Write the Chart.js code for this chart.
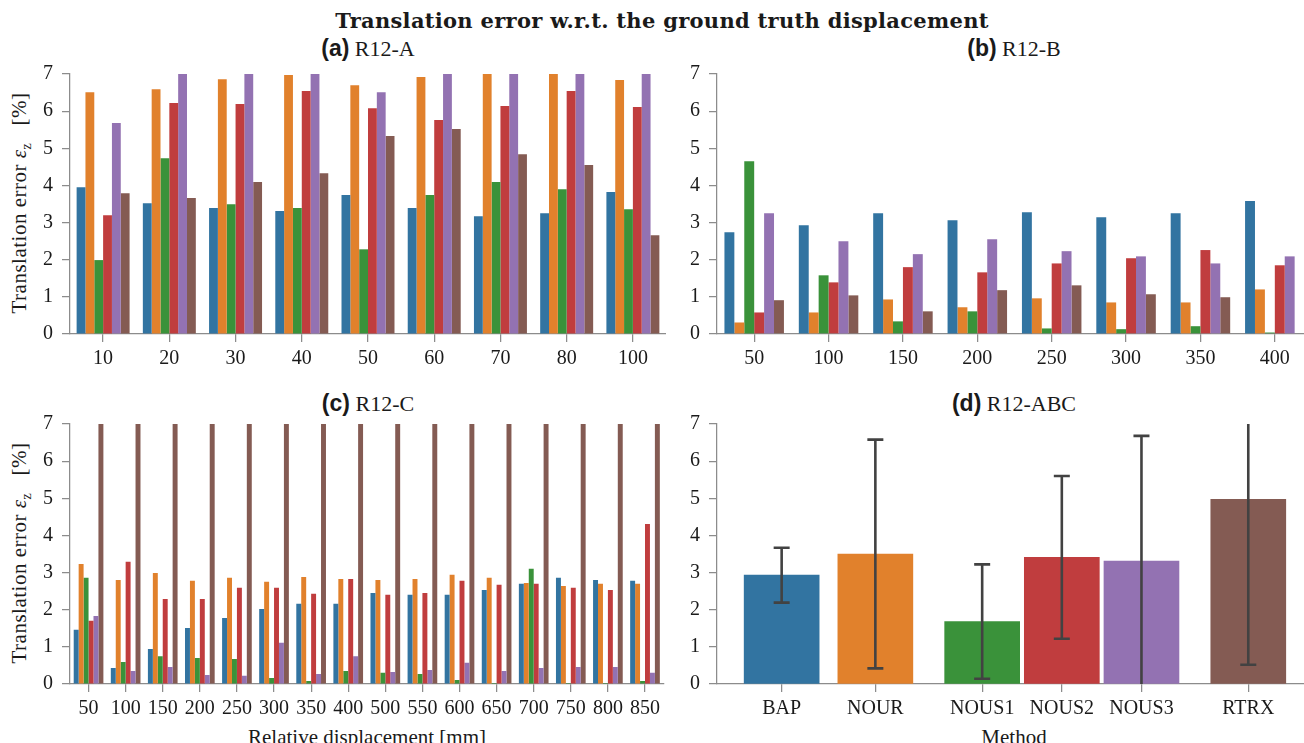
<!DOCTYPE html>
<html>
<head>
<meta charset="utf-8">
<script src="https://cdn.jsdelivr.net/npm/chart.js@4.4.0/dist/chart.umd.min.js"></script>
<style>
  html, body { margin: 0; padding: 0; background: #fff; overflow: hidden; }
  #fig { position: relative; width: 1304px; height: 743px; overflow: hidden; }
  #fig canvas { position: absolute; }
  .txt { position: absolute; font-family: 'Liberation Serif', serif; color: #1a1a1a; white-space: nowrap; transform: translate(-50%, -50%); }
  .sup { font-family: 'DejaVu Serif', serif; font-size: 21px; font-weight: bold; letter-spacing: 0.3px; }
  .ptitle { font-size: 22px; }
  .ptitle b { font-family: 'Liberation Sans', Arial, sans-serif; font-size: 23px; font-weight: bold; }
  .axlab { font-size: 21px; }
  .ylab { transform: translate(-50%, -50%) rotate(-90deg); letter-spacing: 0.5px; }
  sub { font-size: 14px; }
</style>
</head>
<body>
<div id="fig">
  <div class="txt sup" style="left:662px; top:20px">Translation error w.r.t. the ground truth displacement</div>

  <div class="txt ptitle" style="left:368px; top:48px"><b>(a)</b> R12-A</div>
  <div class="txt ptitle" style="left:1014px; top:48px"><b>(b)</b> R12-B</div>
  <div class="txt ptitle" style="left:368px; top:403px"><b>(c)</b> R12-C</div>
  <div class="txt ptitle" style="left:1014px; top:403px"><b>(d)</b> R12-ABC</div>

  <div class="txt axlab ylab" style="left:21px; top:203px">Translation error <i>ε</i><sub>z</sub>&nbsp;&nbsp; [%]</div>
  <div class="txt axlab ylab" style="left:21px; top:553px">Translation error <i>ε</i><sub>z</sub>&nbsp;&nbsp; [%]</div>
  <div class="txt axlab" style="left:367px; top:737px">Relative displacement [mm]</div>
  <div class="txt axlab" style="left:1014px; top:737px">Method</div>

  <canvas id="chartA" width="666" height="310"></canvas>
  <canvas id="chartB" width="665" height="310"></canvas>
  <canvas id="chartC" width="665" height="310"></canvas>
  <canvas id="chartD" width="665" height="310"></canvas>
</div>

<script>
// methods (hue) and colours
const methods = ['BAP', 'NOUR', 'NOUS1', 'NOUS2', 'NOUS3', 'RTRX'];
const methodColors = ['#3274a1', '#e1812c', '#3a923a', '#c03d3e', '#9372b2', '#845b53'];

// (a) R12-A  -- values above 7 are off the axis
const dispA = ['10', '20', '30', '40', '50', '60', '70', '80', '100'];
const aBAP   = [3.95, 3.52, 3.39, 3.31, 3.74, 3.39, 3.17, 3.25, 3.82];
const aNOUR  = [6.51, 6.59, 6.86, 6.97, 6.70, 6.92, 7.5, 7.5, 6.84];
const aNOUS1 = [1.99, 4.73, 3.49, 3.39, 2.28, 3.74, 4.09, 3.90, 3.36];
const aNOUS2 = [3.20, 6.22, 6.19, 6.54, 6.08, 5.76, 6.14, 6.54, 6.11];
const aNOUS3 = [5.68, 7.5, 7.5, 7.5, 6.51, 7.5, 7.5, 7.5, 7.5];
const aRTRX  = [3.79, 3.66, 4.09, 4.33, 5.33, 5.52, 4.84, 4.55, 2.66];

// (b) R12-B
const dispB = ['50', '100', '150', '200', '250', '300', '350', '400'];
const bBAP   = [2.74, 2.93, 3.25, 3.06, 3.28, 3.14, 3.25, 3.58];
const bNOUR  = [0.31, 0.58, 0.93, 0.72, 0.96, 0.85, 0.85, 1.20];
const bNOUS1 = [4.65, 1.58, 0.34, 0.61, 0.15, 0.13, 0.21, 0.04];
const bNOUS2 = [0.58, 1.39, 1.80, 1.66, 1.90, 2.04, 2.26, 1.85];
const bNOUS3 = [3.25, 2.50, 2.15, 2.55, 2.23, 2.09, 1.90, 2.09];
const bRTRX  = [0.91, 1.04, 0.61, 1.18, 1.31, 1.07, 0.99, 0];

// (c) R12-C  -- RTRX is above the 7 % limit everywhere
const dispC = ['50', '100', '150', '200', '250', '300', '350', '400', '500', '550', '600', '650', '700', '750', '800', '850'];
const cBAP   = [1.46, 0.43, 0.94, 1.51, 1.78, 2.02, 2.16, 2.16, 2.45, 2.40, 2.40, 2.53, 2.70, 2.86, 2.80, 2.78];
const cNOUR  = [3.23, 2.80, 2.99, 2.78, 2.86, 2.75, 2.88, 2.83, 2.80, 2.83, 2.94, 2.86, 2.72, 2.64, 2.70, 2.70];
const cNOUS1 = [2.86, 0.59, 0.75, 0.70, 0.67, 0.16, 0.08, 0.35, 0.30, 0.27, 0.11, 0.03, 3.10, 0.03, 0.03, 0.08];
const cNOUS2 = [1.70, 3.29, 2.29, 2.29, 2.59, 2.59, 2.43, 2.83, 2.40, 2.45, 2.78, 2.67, 2.70, 2.59, 2.53, 4.31];
const cNOUS3 = [1.83, 0.35, 0.46, 0.24, 0.22, 1.11, 0.27, 0.75, 0.32, 0.38, 0.57, 0.35, 0.43, 0.46, 0.46, 0.30];
const cRTRX  = [8, 8, 8, 8, 8, 8, 8, 8, 8, 8, 8, 8, 8, 8, 8, 8];

// (d) R12-ABC  mean and std per method, with bar positions along the axis
const dPositions = [0, 1, 2.14, 2.99, 3.84, 4.98];
const dMeans = [2.93, 3.50, 1.68, 3.41, 3.31, 4.97];
const dErrs  = [0.74, 3.08, 1.54, 2.19, 3.37, 4.45];

const yTicks = [0, 1, 2, 3, 4, 5, 6, 7];

const spineColor = '#8c8c8c';
const tickFont = { family: 'Liberation Serif', size: 20 };
const X_AXIS_H = 40;

function yAxis() {
  return {
    min: 0, max: 7,
    afterBuildTicks: s => { s.ticks = yTicks.map(v => ({ value: v })); },
    ticks: { color: '#1a1a1a', font: tickFont, padding: 9 },
    grid: { drawOnChartArea: false, tickLength: 8, color: spineColor, lineWidth: 1.25 },
    border: { color: spineColor, width: 1.25 },
    afterFit: s => { s.width = 70; }
  };
}

function xAxis() {
  return {
    ticks: { color: '#1a1a1a', font: tickFont, padding: 5, autoSkip: false, maxRotation: 0, minRotation: 0 },
    grid: { offset: false, drawOnChartArea: false, tickLength: 8, color: spineColor, lineWidth: 1.25 },
    border: { color: spineColor, width: 1.25 },
    afterFit: s => { s.height = X_AXIS_H; }
  };
}

function baseOptions(x) {
  return {
    responsive: false,
    maintainAspectRatio: false,
    devicePixelRatio: 1,
    animation: false,
    layout: { padding: 0 },
    plugins: { legend: { display: false }, tooltip: { enabled: false }, title: { display: false } },
    scales: { x: x, y: yAxis() }
  };
}

// put the canvas so that its plot area spans [top, bottom] on the page
function place(chart, left, top, bottom) {
  const off = chart.chartArea.top;
  chart.canvas.style.left = left + 'px';
  chart.canvas.style.top = (top - off) + 'px';
  chart.resize(chart.width, off + (bottom - top) + X_AXIS_H);
}

function groupedChart(id, labels, series) {
  return new Chart(document.getElementById(id), {
    type: 'bar',
    data: {
      labels: labels,
      datasets: series.map((vals, i) => ({
        label: methods[i],
        data: vals,
        backgroundColor: methodColors[i],
        borderWidth: 0,
        categoryPercentage: 0.8,
        barPercentage: 1.0
      }))
    },
    options: baseOptions(xAxis())
  });
}

const chartA = groupedChart('chartA', dispA, [aBAP, aNOUR, aNOUS1, aNOUS2, aNOUS3, aRTRX]);
const chartB = groupedChart('chartB', dispB, [bBAP, bNOUR, bNOUS1, bNOUS2, bNOUS3, bRTRX]);
const chartC = groupedChart('chartC', dispC, [cBAP, cNOUR, cNOUS1, cNOUS2, cNOUS3, cRTRX]);

// error bars for (d), clipped to the plot area like matplotlib does
const errorBars = {
  id: 'errorBars',
  afterDatasetsDraw(chart) {
    const { ctx, chartArea, scales } = chart;
    ctx.save();
    ctx.beginPath();
    ctx.rect(chartArea.left, chartArea.top, chartArea.right - chartArea.left, chartArea.bottom - chartArea.top);
    ctx.clip();
    ctx.strokeStyle = '#424242';
    ctx.lineWidth = 2.6;
    dMeans.forEach((m, i) => {
      const px = scales.x.getPixelForValue(dPositions[i]);
      const hi = scales.y.getPixelForValue(m + dErrs[i]);
      const lo = scales.y.getPixelForValue(m - dErrs[i]);
      ctx.beginPath();
      ctx.moveTo(px, hi); ctx.lineTo(px, lo);
      ctx.moveTo(px - 8, hi); ctx.lineTo(px + 8, hi);
      ctx.moveTo(px - 8, lo); ctx.lineTo(px + 8, lo);
      ctx.stroke();
    });
    ctx.restore();
  }
};

const xD = xAxis();
xD.type = 'linear';
xD.min = -0.69;
xD.max = 5.66;
xD.offset = false;
xD.afterBuildTicks = s => { s.ticks = dPositions.map(v => ({ value: v })); };
xD.ticks.callback = (v, i) => methods[i];

const chartD = new Chart(document.getElementById('chartD'), {
  type: 'bar',
  data: {
    datasets: [{
      data: dPositions.map((p, i) => ({ x: p, y: dMeans[i] })),
      backgroundColor: methodColors,
      borderWidth: 0,
      barThickness: 75
    }]
  },
  options: baseOptions(xD),
  plugins: [errorBars]
});

place(chartA, 0, 74, 334);
place(chartB, 647, 74, 334);
place(chartC, 0, 424, 684);
place(chartD, 647, 424, 684);
</script>
</body>
</html>
